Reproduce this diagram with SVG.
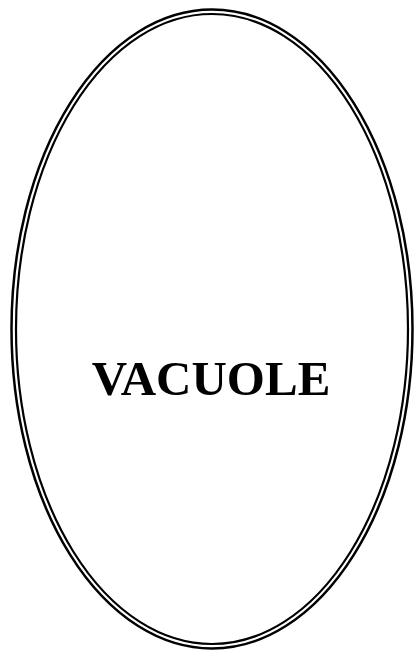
<svg xmlns="http://www.w3.org/2000/svg" width="415" height="656" viewBox="0 0 415 656">
<style>
.ring{fill:none;stroke:#000;}
.lbl{font-family:"Liberation Serif","Times New Roman",serif;font-weight:bold;font-size:49px;fill:#000;}
</style>
<rect width="415" height="656" fill="#fff"/>
<g id="vacuole">
<ellipse class="ring" cx="212" cy="329" rx="200.5" ry="319.5" stroke-width="2.5"/>
<ellipse class="ring" cx="212" cy="329" rx="196" ry="315" stroke-width="2.2"/>
<text class="lbl" x="211" y="395" text-anchor="middle">VACUOLE</text>
</g>
<g id="connectors"/>
</svg>
